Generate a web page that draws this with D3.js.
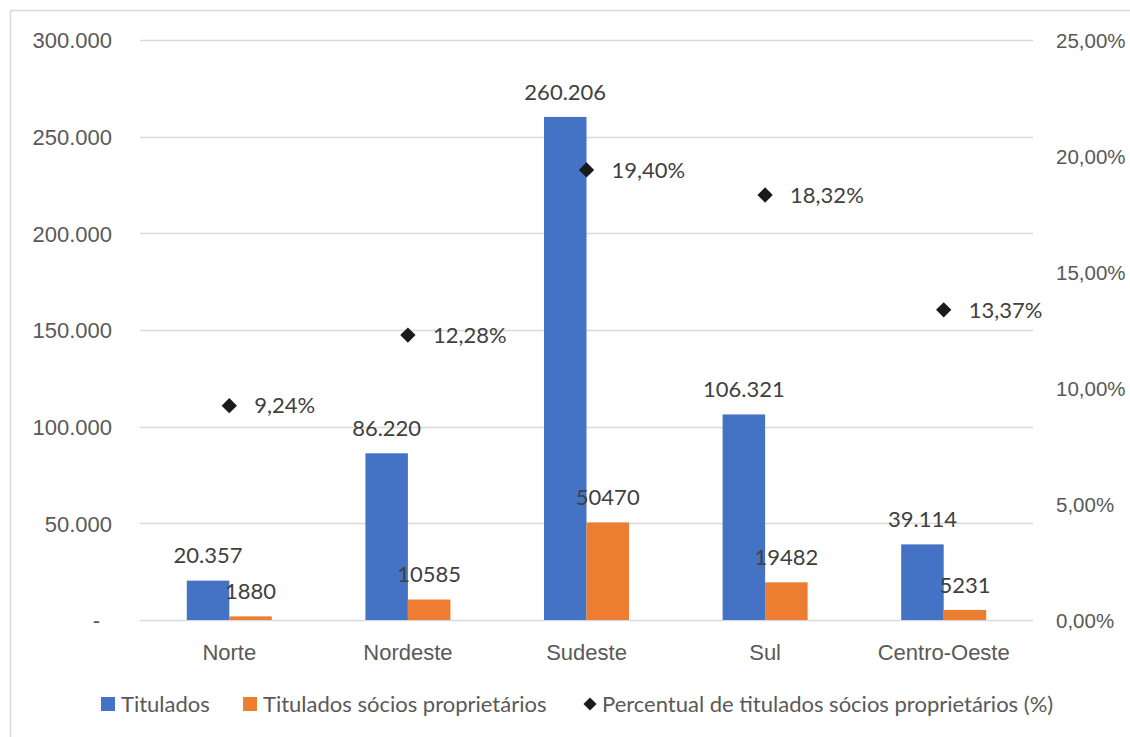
<!DOCTYPE html>
<html>
<head>
<meta charset="utf-8">
<script src="https://cdn.jsdelivr.net/npm/d3@7"></script>
<style>
  html, body { margin: 0; padding: 0; background: #fff; }
  svg { display: block; font-family: Lato, "Open Sans", sans-serif; }
</style>
</head>
<body>
<svg id="chart" width="1130" height="737"></svg>
<script>
// Regiões e valores
const regioes = ["Norte", "Nordeste", "Sudeste", "Sul", "Centro-Oeste"];
const titulados = [20357, 86220, 260206, 106321, 39114];
const sociosProprietarios = [1880, 10585, 50470, 19482, 5231];
const percentualSocios = [9.24, 12.28, 19.40, 18.32, 13.37];

const ticksEsquerda = [0, 50000, 100000, 150000, 200000, 250000, 300000];
const ticksDireita = [0, 5, 10, 15, 20, 25];

const legenda = [
  { nome: "Titulados", tipo: "rect", cor: "#4472C4" },
  { nome: "Titulados sócios proprietários", tipo: "rect", cor: "#ED7D31" },
  { nome: "Percentual de titulados sócios proprietários (%)", tipo: "diamond", cor: "#1a1a1a" }
];

const svg = d3.select("#chart");
const W = 1130, H = 737;
const area = { left: 140, right: 1033, top: 40, bottom: 620 };
const FS = "22px";

// moldura
svg.append("rect")
  .attr("x", 10.5).attr("y", 10.5)
  .attr("width", W + 20).attr("height", H + 20)
  .attr("fill", "none").attr("stroke", "#d9d9d9").attr("stroke-width", 1.5);

const x = d3.scaleBand().domain(regioes).range([area.left, area.right]).paddingInner(0).paddingOuter(0);
const yL = d3.scaleLinear().domain([0, 300000]).range([area.bottom, area.top]);
const yR = d3.scaleLinear().domain([0, 25]).range([area.bottom, area.top]);

const loc = d3.formatLocale({ decimal: ",", thousands: ".", grouping: [3], currency: ["R$", ""] });
const fmtThousands = loc.format(",d");
const fmtPct = v => loc.format(".2f")(v) + "%";

// grade
svg.append("g").selectAll("line").data(ticksEsquerda).join("line")
  .attr("x1", area.left).attr("x2", area.right)
  .attr("y1", d => Math.round(yL(d)) + 0.5).attr("y2", d => Math.round(yL(d)) + 0.5)
  .attr("stroke", "#d9d9d9").attr("stroke-width", 1.5);

// eixo esquerdo
const axisL = d3.axisLeft(yL).tickValues(ticksEsquerda).tickSize(0).tickPadding(0)
  .tickFormat(d => d === 0 ? "-" : fmtThousands(d));
const gL = svg.append("g").attr("transform", `translate(112,0)`).call(axisL);
gL.select(".domain").remove();
gL.selectAll("text").attr("fill", "#595959").style("font-size", FS).attr("dy", "0.35em")
  .attr("dx", d => d === 0 ? -12 : 0);

// eixo direito
const axisR = d3.axisRight(yR).tickValues(ticksDireita).tickSize(0).tickPadding(0)
  .tickFormat(d => fmtPct(d));
const gR = svg.append("g").attr("transform", `translate(1056,0)`).call(axisR);
gR.select(".domain").remove();
gR.selectAll("text").attr("fill", "#595959").style("font-size", "20.5px").attr("dy", "0.35em");

// eixo categorias
const axisX = d3.axisBottom(x).tickSize(0).tickPadding(0);
const gX = svg.append("g").attr("transform", `translate(0,${area.bottom + 32})`).call(axisX);
gX.select(".domain").remove();
gX.selectAll("text").attr("fill", "#595959").style("font-size", FS).attr("dy", "0.35em");

// barras
const barW = 42.5;
const grupos = svg.append("g");
const series = [
  { valores: titulados, cor: "#4472C4", offset: -barW, fmt: fmtThousands },
  { valores: sociosProprietarios, cor: "#ED7D31", offset: 0, fmt: d => String(d) }
];
series.forEach(s => {
  grupos.append("g").selectAll("rect").data(regioes).join("rect")
    .attr("x", (d) => x(d) + x.bandwidth() / 2 + s.offset)
    .attr("width", barW)
    .attr("y", (d, i) => yL(s.valores[i]))
    .attr("height", (d, i) => area.bottom - yL(s.valores[i]))
    .attr("fill", s.cor);
  grupos.append("g").selectAll("text").data(regioes).join("text")
    .attr("x", d => x(d) + x.bandwidth() / 2 + s.offset + barW / 2)
    .attr("y", (d, i) => yL(s.valores[i]) - 25)
    .attr("dy", "0.35em")
    .attr("text-anchor", "middle")
    .attr("fill", "#404040")
    .style("font-size", FS)
    .text((d, i) => s.fmt(s.valores[i]));
});

// marcadores de percentual
const diamante = d3.symbol().type(d3.symbolDiamond2).size(150);
const pontos = svg.append("g");
pontos.selectAll("path").data(regioes).join("path")
  .attr("d", diamante)
  .attr("transform", (d, i) => `translate(${x(d) + x.bandwidth() / 2},${yR(percentualSocios[i])})`)
  .attr("fill", "#1a1a1a");
pontos.selectAll("text").data(regioes).join("text")
  .attr("x", d => x(d) + x.bandwidth() / 2 + 25)
  .attr("y", (d, i) => yR(percentualSocios[i]))
  .attr("dy", "0.35em")
  .attr("fill", "#404040")
  .style("font-size", FS)
  .text((d, i) => fmtPct(percentualSocios[i]));

// legenda
const legPos = [101, 243, 582];
const leg = svg.append("g");
legenda.forEach((l, i) => {
  const g = leg.append("g").attr("transform", `translate(${legPos[i]},704)`);
  if (l.tipo === "rect") {
    g.append("rect").attr("x", 0).attr("y", -7).attr("width", 14).attr("height", 14).attr("fill", l.cor);
  } else {
    g.append("path").attr("d", d3.symbol().type(d3.symbolDiamond2).size(110)).attr("transform", "translate(8,0)").attr("fill", l.cor);
  }
  g.append("text").attr("x", 20).attr("dy", "0.35em").attr("fill", "#595959")
    .style("font-size", FS).text(l.nome);
});
</script>
</body>
</html>
